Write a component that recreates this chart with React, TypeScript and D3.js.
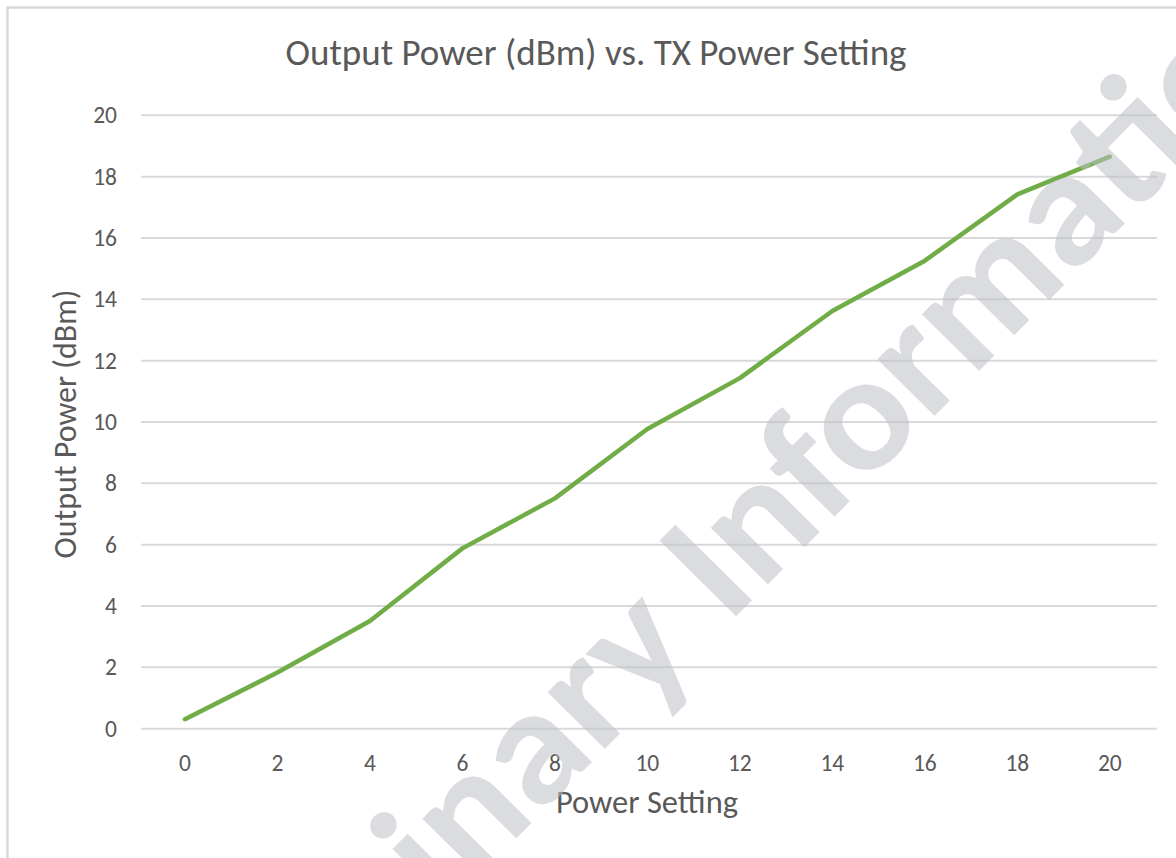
import React from "react";
import * as d3 from "d3";

const powerSettings = [0, 2, 4, 6, 8, 10, 12, 14, 16, 18, 20];
const outputPower = [0.31, 1.83, 3.51, 5.88, 7.51, 9.77, 11.43, 13.62, 15.26, 17.42, 18.65];
const xTicks = [0, 2, 4, 6, 8, 10, 12, 14, 16, 18, 20];
const yTicks = [0, 2, 4, 6, 8, 10, 12, 14, 16, 18, 20];

const TITLE = "Output Power (dBm) vs. TX Power Setting";
const X_TITLE = "Power Setting";
const Y_TITLE = "Output Power (dBm)";
const WATERMARK = "Preliminary Information";

const W = 1176;
const H = 858;
const plot = { left: 141, right: 1157, top: 115.3, bottom: 728.7 };
const FONT = "Carlito, Calibri, Lato, sans-serif";
const TEXT = "#595959";

export default function App() {
  const x = d3.scaleLinear().domain([-0.95, 21.02]).range([plot.left, plot.right]);
  const y = d3.scaleLinear().domain([0, 20]).range([plot.bottom, plot.top]);
  const pts = powerSettings.map((p, i) => [p, outputPower[i]] as [number, number]);
  const line = d3
    .line<[number, number]>()
    .x((d) => x(d[0]))
    .y((d) => y(d[1]));

  return (
    <svg
      width={W}
      height={H}
      style={{ position: "absolute", left: 0, top: 0, display: "block", background: "#fff" }}
      fontFamily={FONT}
    >
      <rect x={0} y={0} width={W} height={H} fill="#fff" />
      <rect x={7.5} y={7.5} width={1200} height={900} fill="#fff" stroke="#d9d9d9" strokeWidth={2.5} />

      <text x={596} y={65} textAnchor="middle" fontSize={37} fill={TEXT}>
        {TITLE}
      </text>

      {yTicks.map((t) => (
        <line
          key={"g" + t}
          x1={plot.left}
          x2={plot.right}
          y1={y(t)}
          y2={y(t)}
          stroke="#d9d9d9"
          strokeWidth={2}
        />
      ))}

      {yTicks.map((t) => (
        <text key={"yt" + t} x={117} y={y(t) + 8} textAnchor="end" fontSize={23.5} fill={TEXT}>
          {t}
        </text>
      ))}

      {xTicks.map((t) => (
        <text key={"xt" + t} x={x(t)} y={770.5} textAnchor="middle" fontSize={23.5} fill={TEXT}>
          {t}
        </text>
      ))}

      <text x={647} y={813} textAnchor="middle" fontSize={32.5} fill={TEXT}>
        {X_TITLE}
      </text>
      <text
        transform={`translate(76,424) rotate(-90)`}
        textAnchor="middle"
        fontSize={32}
        fill={TEXT}
      >
        {Y_TITLE}
      </text>

      <path
        d={line(pts) || ""}
        fill="none"
        stroke="#70ad47"
        strokeWidth={4.5}
        strokeLinecap="round"
        strokeLinejoin="round"
      />

      <text
        transform={`translate(723.5,629) rotate(-45.3)`}
        textAnchor="middle"
        fontSize={166}
        fontWeight={700}
        fill="rgb(190,192,197)"
        fillOpacity={0.55}
        textLength={1733}
        lengthAdjust="spacingAndGlyphs"
      >
        {WATERMARK}
      </text>
    </svg>
  );
}
